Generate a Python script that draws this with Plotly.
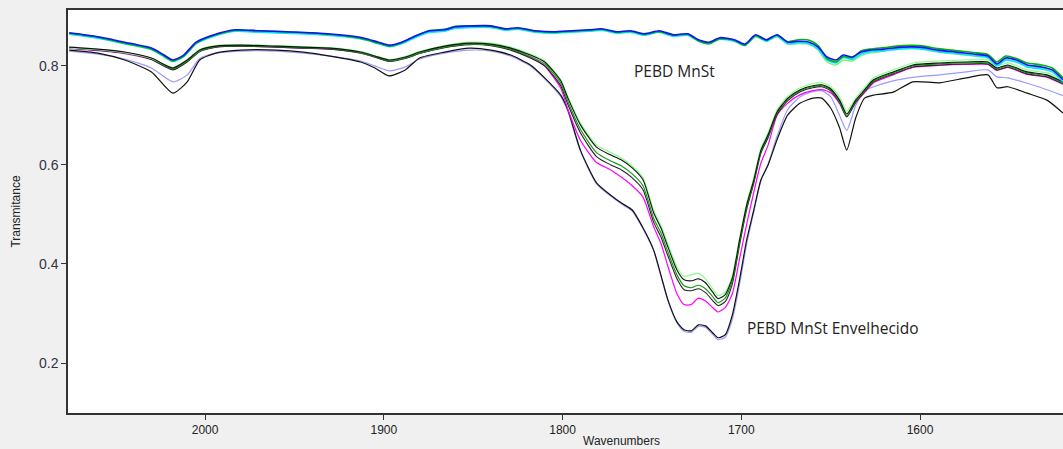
import plotly.graph_objects as go

# ---------- data ----------
wn_top = [2076, 2060, 2045, 2030, 2023, 2018, 2012, 2005, 1995, 1983,
          1970, 1955, 1940, 1925, 1912, 1903, 1897, 1890, 1882, 1874,
          1866, 1860, 1850, 1840, 1832, 1825, 1815, 1805, 1795, 1785,
          1778, 1770, 1762, 1754, 1746, 1738, 1730, 1724, 1718, 1712,
          1704, 1698, 1692, 1686, 1680, 1674, 1668, 1662, 1657, 1652,
          1647, 1643, 1638, 1633, 1628, 1620, 1610, 1600, 1590, 1580,
          1570, 1562, 1557, 1552, 1546, 1540, 1532, 1526, 1520]

top_lightgreen = [0.865, 0.857, 0.845, 0.833, 0.819, 0.809, 0.819, 0.845, 0.861, 0.871,
                  0.869, 0.867, 0.865, 0.861, 0.855, 0.846, 0.840, 0.846, 0.859, 0.869,
                  0.871, 0.877, 0.879, 0.879, 0.873, 0.875, 0.869, 0.867, 0.869, 0.871,
                  0.873, 0.867, 0.869, 0.863, 0.869, 0.861, 0.863, 0.851, 0.846, 0.855,
                  0.851, 0.842, 0.859, 0.851, 0.859, 0.844, 0.845, 0.843, 0.832, 0.808,
                  0.802, 0.812, 0.810, 0.821, 0.826, 0.830, 0.834, 0.834, 0.828, 0.824,
                  0.820, 0.816, 0.803, 0.812, 0.808, 0.800, 0.796, 0.790, 0.770]
top_cyan = [0.864, 0.856, 0.845, 0.833, 0.819, 0.809, 0.819, 0.845, 0.860, 0.870,
            0.868, 0.866, 0.864, 0.860, 0.854, 0.845, 0.839, 0.845, 0.858, 0.868,
            0.870, 0.876, 0.878, 0.878, 0.872, 0.874, 0.868, 0.866, 0.868, 0.870,
            0.872, 0.866, 0.868, 0.862, 0.868, 0.860, 0.862, 0.850, 0.845, 0.854,
            0.850, 0.841, 0.860, 0.850, 0.860, 0.845, 0.847, 0.845, 0.834, 0.812,
            0.806, 0.817, 0.813, 0.824, 0.829, 0.831, 0.835, 0.835, 0.829, 0.825,
            0.821, 0.817, 0.800, 0.812, 0.808, 0.798, 0.794, 0.788, 0.768]
top_green = [0.866, 0.858, 0.846, 0.834, 0.820, 0.810, 0.820, 0.846, 0.862, 0.872,
             0.871, 0.869, 0.866, 0.862, 0.855, 0.846, 0.840, 0.847, 0.861, 0.872,
             0.874, 0.880, 0.881, 0.880, 0.874, 0.876, 0.870, 0.868, 0.870, 0.872,
             0.874, 0.868, 0.870, 0.864, 0.869, 0.862, 0.864, 0.851, 0.845, 0.855,
             0.852, 0.842, 0.861, 0.852, 0.862, 0.849, 0.853, 0.852, 0.841, 0.815,
             0.808, 0.819, 0.816, 0.830, 0.834, 0.837, 0.841, 0.841, 0.835, 0.831,
             0.827, 0.823, 0.808, 0.820, 0.815, 0.806, 0.802, 0.796, 0.776]
top_blue = [0.867, 0.859, 0.848, 0.836, 0.822, 0.812, 0.822, 0.848, 0.863, 0.873,
            0.871, 0.869, 0.867, 0.863, 0.857, 0.848, 0.842, 0.848, 0.861, 0.871,
            0.873, 0.879, 0.881, 0.881, 0.875, 0.877, 0.871, 0.869, 0.871, 0.873,
            0.875, 0.869, 0.871, 0.865, 0.871, 0.863, 0.865, 0.853, 0.848, 0.857,
            0.853, 0.844, 0.863, 0.853, 0.863, 0.848, 0.850, 0.848, 0.838, 0.818,
            0.812, 0.822, 0.818, 0.828, 0.832, 0.834, 0.838, 0.838, 0.832, 0.828,
            0.824, 0.820, 0.804, 0.816, 0.812, 0.802, 0.798, 0.792, 0.772]

wn_aged = [2076, 2060, 2045, 2030, 2018, 2010, 2003, 1994, 1980, 1960,
           1945, 1930, 1913, 1905, 1897, 1888, 1880, 1866, 1852, 1840,
           1829, 1818, 1810, 1801, 1797, 1790, 1781, 1773, 1767, 1761,
           1755, 1749, 1745, 1741, 1736, 1732, 1728, 1724, 1720, 1716,
           1713, 1709, 1705, 1701, 1697, 1693, 1689, 1685, 1680, 1674,
           1667, 1660, 1655, 1650, 1645, 1641, 1636, 1631, 1626, 1615,
           1604, 1589, 1574, 1562, 1557, 1551, 1540, 1529, 1520]

aged_lavender = [0.830, 0.824, 0.814, 0.796, 0.768, 0.782, 0.815, 0.826, 0.830, 0.830,
                 0.826, 0.820, 0.810, 0.800, 0.790, 0.798, 0.814, 0.826, 0.832, 0.830,
                 0.820, 0.800, 0.774, 0.738, 0.708, 0.628, 0.562, 0.537, 0.521, 0.507,
                 0.471, 0.426, 0.376, 0.325, 0.281, 0.264, 0.262, 0.274, 0.272, 0.258,
                 0.247, 0.252, 0.288, 0.358, 0.440, 0.505, 0.568, 0.602, 0.658, 0.712,
                 0.738, 0.748, 0.750, 0.738, 0.700, 0.670, 0.720, 0.750, 0.758, 0.770,
                 0.777, 0.782, 0.788, 0.792, 0.778, 0.776, 0.765, 0.752, 0.740]
aged_black3 = [0.832, 0.826, 0.812, 0.788, 0.745, 0.768, 0.812, 0.826, 0.832, 0.832,
               0.828, 0.820, 0.808, 0.796, 0.780, 0.792, 0.816, 0.828, 0.836, 0.832,
               0.822, 0.802, 0.776, 0.741, 0.711, 0.630, 0.564, 0.539, 0.523, 0.509,
               0.473, 0.428, 0.378, 0.327, 0.283, 0.267, 0.265, 0.277, 0.275, 0.261,
               0.251, 0.257, 0.297, 0.368, 0.448, 0.509, 0.570, 0.600, 0.651, 0.701,
               0.725, 0.735, 0.735, 0.715, 0.675, 0.630, 0.695, 0.735, 0.741, 0.747,
               0.768, 0.766, 0.776, 0.782, 0.756, 0.758, 0.745, 0.731, 0.705]
aged_magenta = [0.835, 0.831, 0.825, 0.813, 0.793, 0.810, 0.830, 0.838, 0.840, 0.838,
                0.836, 0.834, 0.826, 0.818, 0.810, 0.816, 0.826, 0.838, 0.844, 0.842,
                0.834, 0.818, 0.800, 0.755, 0.712, 0.650, 0.605, 0.590, 0.575, 0.558,
                0.535, 0.475, 0.442, 0.395, 0.340, 0.318, 0.318, 0.331, 0.325, 0.312,
                0.303, 0.312, 0.340, 0.410, 0.480, 0.545, 0.604, 0.640, 0.700, 0.725,
                0.742, 0.750, 0.752, 0.746, 0.724, 0.698, 0.726, 0.746, 0.766, 0.782,
                0.797, 0.801, 0.803, 0.803, 0.791, 0.797, 0.783, 0.777, 0.763]
aged_black2 = [0.836, 0.832, 0.826, 0.813, 0.792, 0.808, 0.829, 0.838, 0.840, 0.838,
               0.836, 0.834, 0.826, 0.818, 0.809, 0.815, 0.825, 0.837, 0.843, 0.841,
               0.832, 0.816, 0.800, 0.760, 0.722, 0.665, 0.617, 0.600, 0.590, 0.574,
               0.550, 0.484, 0.455, 0.416, 0.370, 0.348, 0.346, 0.350, 0.342, 0.326,
               0.316, 0.324, 0.360, 0.438, 0.510, 0.563, 0.624, 0.655, 0.702, 0.730,
               0.748, 0.756, 0.758, 0.750, 0.726, 0.697, 0.727, 0.748, 0.768, 0.784,
               0.798, 0.802, 0.804, 0.804, 0.792, 0.798, 0.784, 0.778, 0.764]
aged_darkgreen = [0.837, 0.833, 0.827, 0.815, 0.794, 0.810, 0.830, 0.839, 0.841, 0.839,
                  0.837, 0.835, 0.827, 0.819, 0.810, 0.816, 0.826, 0.838, 0.844, 0.842,
                  0.834, 0.819, 0.804, 0.765, 0.728, 0.672, 0.625, 0.608, 0.598, 0.582,
                  0.558, 0.492, 0.463, 0.424, 0.378, 0.356, 0.352, 0.357, 0.350, 0.334,
                  0.322, 0.331, 0.366, 0.443, 0.515, 0.567, 0.628, 0.659, 0.705, 0.733,
                  0.750, 0.758, 0.760, 0.752, 0.728, 0.699, 0.729, 0.750, 0.770, 0.786,
                  0.800, 0.804, 0.806, 0.806, 0.794, 0.800, 0.786, 0.780, 0.766]
aged_lightgreen = [0.836, 0.833, 0.827, 0.815, 0.797, 0.813, 0.833, 0.841, 0.843, 0.841,
                   0.839, 0.837, 0.829, 0.821, 0.813, 0.819, 0.829, 0.841, 0.848, 0.846,
                   0.838, 0.824, 0.810, 0.772, 0.738, 0.685, 0.640, 0.625, 0.614, 0.598,
                   0.574, 0.508, 0.478, 0.440, 0.394, 0.375, 0.378, 0.381, 0.370, 0.350,
                   0.336, 0.343, 0.376, 0.452, 0.523, 0.574, 0.634, 0.665, 0.711, 0.739,
                   0.756, 0.764, 0.766, 0.758, 0.737, 0.709, 0.735, 0.756, 0.776, 0.792,
                   0.806, 0.810, 0.812, 0.812, 0.800, 0.806, 0.792, 0.786, 0.772]
aged_black1 = [0.838, 0.834, 0.828, 0.816, 0.796, 0.812, 0.832, 0.840, 0.842, 0.840,
               0.838, 0.836, 0.828, 0.820, 0.812, 0.818, 0.828, 0.840, 0.846, 0.844,
               0.836, 0.822, 0.808, 0.770, 0.735, 0.681, 0.636, 0.620, 0.610, 0.594,
               0.570, 0.503, 0.473, 0.434, 0.388, 0.368, 0.366, 0.370, 0.362, 0.343,
               0.330, 0.338, 0.372, 0.448, 0.519, 0.570, 0.630, 0.661, 0.707, 0.735,
               0.752, 0.760, 0.762, 0.754, 0.731, 0.703, 0.731, 0.752, 0.772, 0.788,
               0.802, 0.806, 0.808, 0.808, 0.796, 0.802, 0.788, 0.782, 0.768]

label_top = "PEBD MnSt"
label_aged = "PEBD MnSt Envelhecido"
x_title = "Wavenumbers"
y_title = "Transmitance"
x_ticks = [2000, 1900, 1800, 1700, 1600]
y_ticks = [0.2, 0.4, 0.6, 0.8]

# ---------- figure ----------
fig = go.Figure()

series = [
    (wn_aged, aged_lavender, "#9a9aff", 1.2),
    (wn_aged, aged_black3, "#111111", 1.2),
    (wn_aged, aged_magenta, "#ff00ff", 1.2),
    (wn_aged, aged_black2, "#222222", 1.1),
    (wn_aged, aged_darkgreen, "#1a9a1a", 1.2),
    (wn_aged, aged_lightgreen, "#8aff8a", 1.2),
    (wn_aged, aged_black1, "#111111", 1.1),
    (wn_top, top_lightgreen, "#7cf27c", 1.4),
    (wn_top, top_cyan, "#00e5ff", 1.6),
    (wn_top, top_green, "#00b400", 1.6),
    (wn_top, top_blue, "#1010ff", 1.6),
]
for xs, ys, col, w in series:
    fig.add_trace(go.Scatter(x=xs, y=ys, mode="lines", showlegend=False,
                             line=dict(color=col, width=w, shape="spline", smoothing=0.6),
                             hoverinfo="skip"))

fig.add_annotation(x=1761, y=0.789, text=label_top, showarrow=False,
                   xanchor="left", yanchor="middle",
                   font=dict(family="Open Sans", size=15.5, color="#222222"))
fig.add_annotation(x=1698, y=0.270, text=label_aged, showarrow=False,
                   xanchor="left", yanchor="middle",
                   font=dict(family="Open Sans", size=15.5, color="#222222"))
fig.add_annotation(x=1767, y=-(441 - 413) / (413 - 10), xref="x", yref="paper",
                   text=x_title, showarrow=False, xanchor="center", yanchor="middle",
                   font=dict(family="Liberation Sans", size=12, color="#222222"))

fig.update_layout(
    width=1063, height=449,
    margin=dict(l=68, r=0, t=10, b=36, autoexpand=False),
    paper_bgcolor="#f0f0f0",
    plot_bgcolor="#ffffff",
    showlegend=False,
    font=dict(family="Liberation Sans", size=12, color="#222222"),
)
fig.update_xaxes(range=[2076.7, 1520], tickvals=x_ticks, ticks="outside",
                 ticklen=5, tickcolor="#333333", showgrid=False, zeroline=False,
                 showline=True, linecolor="#333333", linewidth=1.5, mirror=True,
                 automargin=False,
                 tickfont=dict(family="Liberation Sans", size=12, color="#222222"))
fig.update_yaxes(range=[0.099, 0.913], tickvals=y_ticks, tickformat=".1f",
                 ticks="outside", ticklen=5, tickcolor="#333333",
                 showgrid=False, zeroline=False, showline=True,
                 linecolor="#333333", linewidth=1.5, automargin=False,
                 title=dict(text=y_title, standoff=16,
                            font=dict(family="Liberation Sans", size=12, color="#222222")),
                 tickfont=dict(family="Liberation Sans", size=14, color="#333344"))

fig.write_html("out.html", config={"displayModeBar": False},
               post_script="document.body.style.margin='0';document.body.style.overflow='hidden';")
